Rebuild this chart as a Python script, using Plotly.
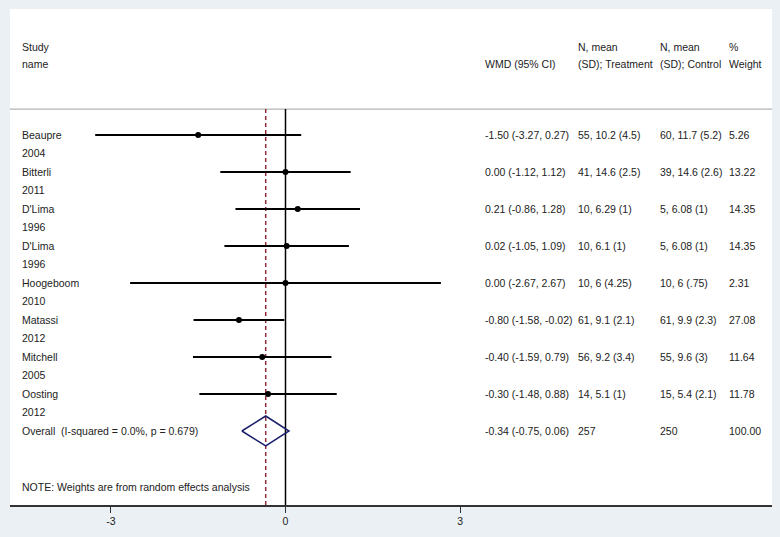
import plotly.graph_objects as go

studies = ["Beaupre", "Bitterli", "D'Lima", "D'Lima", "Hoogeboom", "Matassi", "Mitchell", "Oosting"]
years = ["2004", "2011", "1996", "1996", "2010", "2012", "2005", "2012"]
wmd = [-1.50, 0.00, 0.21, 0.02, 0.00, -0.80, -0.40, -0.30]
ci_low = [-3.27, -1.12, -0.86, -1.05, -2.67, -1.58, -1.59, -1.48]
ci_high = [0.27, 1.12, 1.28, 1.09, 2.67, -0.02, 0.79, 0.88]
treatment = ["55, 10.2 (4.5)", "41, 14.6 (2.5)", "10, 6.29 (1)", "10, 6.1 (1)",
             "10, 6 (4.25)", "61, 9.1 (2.1)", "56, 9.2 (3.4)", "14, 5.1 (1)"]
control = ["60, 11.7 (5.2)", "39, 14.6 (2.6)", "5, 6.08 (1)", "5, 6.08 (1)",
           "10, 6 (.75)", "61, 9.9 (2.3)", "55, 9.6 (3)", "15, 5.4 (2.1)"]
weights = ["5.26", "13.22", "14.35", "14.35", "2.31", "27.08", "11.64", "11.78"]

overall_label = "Overall  (I-squared = 0.0%, p = 0.679)"
overall_est = -0.34
overall_low = -0.75
overall_high = 0.06
overall_treat = "257"
overall_ctrl = "250"
overall_weight = "100.00"

x_ticks = [-3, 0, 3]
note = "NOTE: Weights are from random effects analysis"

FONT = "Liberation Sans, Arial, sans-serif"
FS = 10.5
TXT = "#222222"

W, H = 780, 537
ml, mr, mt, mb = 10, 8, 9, 32
pw = W - ml - mr


def px(xpix):
    return (xpix - ml) / pw


n = len(studies)
rows = list(range(n))
ov_row = n

fig = go.Figure()

# CI lines
cx, cy = [], []
for i in rows:
    cx += [ci_low[i], ci_high[i], None]
    cy += [i, i, None]
fig.add_trace(go.Scatter(x=cx, y=cy, mode="lines", line=dict(color="black", width=2),
                         hoverinfo="skip", showlegend=False))
fig.add_trace(go.Scatter(x=wmd, y=rows, mode="markers",
                         marker=dict(color="black", size=6, symbol="circle"),
                         showlegend=False))

y_top_line = -0.70
y_bottom = 10.0

# zero line and overall dashed line
fig.add_shape(type="line", x0=0, x1=0, y0=y_top_line, y1=y_bottom, xref="x", yref="y",
              line=dict(color="black", width=1.5), layer="below")
fig.add_shape(type="line", x0=overall_est, x1=overall_est, y0=y_top_line, y1=y_bottom,
              xref="x", yref="y", line=dict(color="#8e2b36", width=1.5, dash="4px,3px"),
              layer="below")
# separator
fig.add_shape(type="line", x0=0, x1=1, y0=y_top_line, y1=y_top_line, xref="paper", yref="y",
              line=dict(color="#b4b4b4", width=1.2), layer="below")

# Overall diamond
dh = 0.405
fig.add_trace(go.Scatter(
    x=[overall_low, overall_est, overall_high, overall_est, overall_low],
    y=[ov_row, ov_row - dh, ov_row, ov_row + dh, ov_row],
    mode="lines", line=dict(color="#1a1f6b", width=1.5), showlegend=False))

ann = []


def add_text(xpix, y, text):
    ann.append(dict(x=px(xpix), y=y, xref="paper", yref="y", text=text, showarrow=False,
                    xanchor="left", yanchor="middle",
                    font=dict(family=FONT, size=FS, color=TXT)))


hy1, hy2 = -2.38, -1.92
add_text(20, hy1, "Study")
add_text(20, hy2, "name")
add_text(483, hy2, "WMD (95% CI)")
add_text(576, hy1, "N, mean")
add_text(576, hy2, "(SD); Treatment")
add_text(658, hy1, "N, mean")
add_text(658, hy2, "(SD); Control")
add_text(727, hy1, "%")
add_text(727, hy2, "Weight")

for i in rows:
    add_text(20, i, studies[i])
    add_text(20, i + 0.486, years[i])
    add_text(483, i, f"{wmd[i]:.2f} ({ci_low[i]:.2f}, {ci_high[i]:.2f})")
    add_text(576, i, treatment[i])
    add_text(658, i, control[i])
    add_text(727, i, weights[i])

add_text(20, ov_row, overall_label)
add_text(483, ov_row, f"{overall_est:.2f} ({overall_low:.2f}, {overall_high:.2f})")
add_text(576, ov_row, overall_treat)
add_text(658, ov_row, overall_ctrl)
add_text(727, ov_row, overall_weight)
add_text(20, 9.51, note)

x0 = 285.5
scale = 58.2
xmin = (ml - x0) / scale
xmax = (W - mr - x0) / scale

fig.update_layout(
    width=W, height=H,
    margin=dict(l=ml, r=mr, t=mt, b=mb),
    paper_bgcolor="#eaf0f3",
    plot_bgcolor="white",
    annotations=ann,
    showlegend=False,
    font=dict(family=FONT, size=FS, color=TXT),
    xaxis=dict(range=[xmin, xmax], tickvals=x_ticks, ticktext=[str(t) for t in x_ticks],
               showgrid=False, zeroline=False, showline=True, linecolor="#333333",
               linewidth=1.5, ticks="outside", ticklen=6, tickwidth=1.3, tickcolor="#333333",
               tickfont=dict(family=FONT, size=FS, color=TXT), fixedrange=True),
    yaxis=dict(range=[y_bottom, -3.405], showgrid=False, zeroline=False, showticklabels=False,
               showline=False, fixedrange=True),
)

fig.write_html(
    "out.html",
    config={"displayModeBar": False},
    post_script="document.body.style.margin='0';document.body.style.padding='0';"
                "document.body.style.overflow='hidden';",
)
